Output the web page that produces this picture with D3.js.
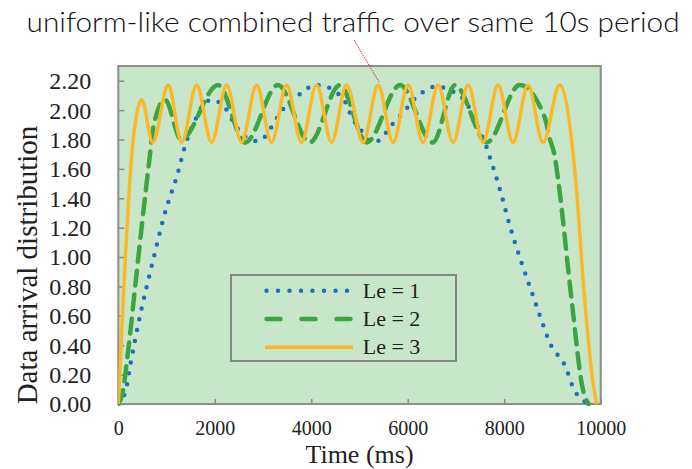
<!DOCTYPE html>
<html>
<head>
<meta charset="utf-8">
<script src="https://cdn.jsdelivr.net/npm/d3@7"></script>
<style>
  body { margin: 0; background: #fff; }
  svg { display: block; }
</style>
</head>
<body>
<div id="chart"></div>
<script>
// values: [time in ms, arrival value]
const titleText = "uniform-like combined traffic over same 10s period";
const xTicks = [0, 2000, 4000, 6000, 8000, 10000];
const yTicks = [0, 0.2, 0.4, 0.6, 0.8, 1.0, 1.2, 1.4, 1.6, 1.8, 2.0, 2.2];
const seriesNames = ["Le = 1", "Le = 2", "Le = 3"];

const le1 = [
  [0, 0], [160, 0.1], [240, 0.25], [450, 0.6], [700, 0.95], [950, 1.28], [1240, 1.58], [1360, 1.73],
  [1520, 1.88], [1620, 1.95], [1730, 2.02], [1930, 2.07], [2270, 1.99], [2380, 1.92], [2870, 1.79],
  [3070, 1.83], [3200, 1.9], [3450, 2.02], [3660, 2.08], [3850, 2.13], [4060, 2.17], [4300, 2.16],
  [4520, 2.12], [4700, 2.06], [4790, 1.99], [4900, 1.92], [5080, 1.84], [5150, 1.8], [5380, 1.79],
  [5560, 1.85], [5700, 1.91], [5870, 1.97], [6000, 2.02], [6180, 2.09], [6350, 2.13], [6560, 2.16],
  [6870, 2.14], [7040, 2.1], [7220, 2.05], [7320, 1.98], [7430, 1.9], [7530, 1.83], [7620, 1.76],
  [7700, 1.68], [7770, 1.61], [7840, 1.54], [7910, 1.46], [7970, 1.39], [8110, 1.22], [8320, 1.0],
  [8530, 0.8], [8740, 0.6], [8940, 0.42], [9280, 0.245], [9420, 0.12], [9600, 0.03], [9840, 0]
];

const le2 = [
  [0, 0], [90, 0.08], [200, 0.35], [350, 0.8], [500, 1.25], [640, 1.65], [730, 1.89], [970, 2.07],
  [1300, 1.8], [2070, 2.17], [2630, 1.78], [3310, 2.17], [3970, 1.78], [4590, 2.17], [5150, 1.78],
  [5840, 2.17], [6520, 1.78], [6980, 2.17], [7640, 1.78], [8320, 2.17], [8840, 1.95], [8940, 1.81],
  [9050, 1.68], [9120, 1.52], [9400, 0.7], [9630, 0.1], [9750, 0]
];

const le3 = [
  [0, 0], [60, 0.42], [120, 0.83], [180, 1.2], [240, 1.52], [300, 1.77], [360, 1.93], [420, 2.03],
  [485, 2.07], [713, 1.78], [1036, 2.17], [1313, 1.78], [1624, 2.17], [1935, 1.78], [2246, 2.17],
  [2556, 1.78], [2867, 2.17], [3178, 1.78], [3489, 2.17], [3799, 1.78], [4110, 2.17], [4421, 1.78],
  [4732, 2.17], [5076, 1.78], [5386, 2.17], [5697, 1.78], [6008, 2.17], [6319, 1.78], [6629, 2.17],
  [6940, 1.78], [7251, 2.17], [7562, 1.78], [7872, 2.17], [8183, 1.78], [8494, 2.17], [8805, 1.78],
  [9151, 2.17], [9482, 1.52], [9668, 0.71], [9834, 0.16], [9917, 0]
];

const width = 692, height = 469;
const plot = { left: 118.3, right: 600.7, top: 66, bottom: 404 };

const svg = d3.select("#chart").append("svg")
  .attr("width", width).attr("height", height)
  .attr("viewBox", `0 0 ${width} ${height}`);

const x = d3.scaleLinear().domain([0, 10000]).range([plot.left, plot.right]);
const y = d3.scaleLinear().domain([0, 2.3]).range([plot.bottom, plot.top]);

// plot area
svg.append("rect")
  .attr("x", plot.left).attr("y", plot.top)
  .attr("width", plot.right - plot.left).attr("height", plot.bottom - plot.top)
  .attr("fill", "#c8e6c9");

const axisColor = "#8c8c8c";
const serif = "'Liberation Serif', 'Times New Roman', serif";
const gx = svg.append("g").attr("transform", `translate(0,${plot.bottom})`)
  .call(d3.axisBottom(x).tickValues(xTicks).tickSize(-5).tickSizeOuter(0).tickPadding(31).tickFormat(d3.format("d")));
gx.selectAll("text").attr("font-family", serif)
  .attr("font-size", 20).attr("fill", "#222").attr("dy", 0);
const gy = svg.append("g").attr("transform", `translate(${plot.left},0)`)
  .call(d3.axisLeft(y).tickValues(yTicks).tickSize(-6).tickSizeOuter(0).tickPadding(27).tickFormat(d3.format(".2f")));
gy.selectAll("text").attr("font-family", serif)
  .attr("font-size", 24).attr("fill", "#222").attr("dy", "0.33em");
svg.selectAll(".tick line").attr("stroke", axisColor).attr("stroke-width", 1.5);
svg.selectAll(".domain").remove();

// frame
svg.append("rect")
  .attr("x", plot.left).attr("y", plot.top)
  .attr("width", plot.right - plot.left).attr("height", plot.bottom - plot.top)
  .attr("fill", "none").attr("stroke", axisColor).attr("stroke-width", 2);

const line = d3.line().x((d) => x(d[0])).y((d) => y(d[1])).curve(d3.curveMonotoneX);
const series = [
  { name: seriesNames[0], data: le1, color: "#1f6fbf", width: 4.5, dash: "0 11", cap: "round", legendDash: "0 11.5" },
  { name: seriesNames[1], data: le2, color: "#3da444", width: 4.5, dash: "15 9", cap: "round", legendDash: "14 21" },
  { name: seriesNames[2], data: le3, color: "#fbb927", width: 3.5, dash: null, cap: "butt", legendDash: null },
];

svg.append("clipPath").attr("id", "plotclip").append("rect")
  .attr("x", plot.left).attr("y", plot.top - 2)
  .attr("width", plot.right - plot.left + 3).attr("height", plot.bottom - plot.top + 4);

svg.append("g").attr("clip-path", "url(#plotclip)")
  .selectAll("path").data(series).join("path")
  .attr("fill", "none").attr("stroke", (d) => d.color).attr("stroke-width", (d) => d.width)
  .attr("stroke-dasharray", (d) => d.dash).attr("stroke-linecap", (d) => d.cap)
  .attr("stroke-linejoin", "round")
  .attr("d", (d) => line(d.data));

// legend
const legend = svg.append("g");
legend.append("rect").attr("x", 231).attr("y", 275).attr("width", 225).attr("height", 86)
  .attr("fill", "none").attr("stroke", "#858585").attr("stroke-width", 2);
const rows = legend.selectAll("g.row").data(series).join("g").attr("class", "row")
  .attr("transform", (d, i) => `translate(0,${290.7 + i * 28.3})`);
rows.append("line").attr("x1", (d) => d.cap === "round" ? 266.5 : 265).attr("x2", 353)
  .attr("stroke", (d) => d.color).attr("stroke-width", (d) => d.width)
  .attr("stroke-dasharray", (d) => d.legendDash).attr("stroke-linecap", (d) => d.cap);
rows.append("text").attr("x", 362.7).attr("y", 6.8)
  .attr("font-family", serif).attr("font-size", 22)
  .attr("fill", "#222").text((d) => d.name);

// axis titles
svg.append("text").attr("x", x(5000)).attr("y", 463).attr("text-anchor", "middle")
  .attr("font-family", serif).attr("font-size", 26)
  .attr("fill", "#222").text("Time (ms)");
svg.append("text").attr("transform", "translate(37,265) rotate(-90)").attr("text-anchor", "middle")
  .attr("font-family", serif).attr("font-size", 29)
  .attr("fill", "#222").text("Data arrival distribution");

// annotation
svg.append("text").attr("x", 26.6).attr("y", 32)
  .attr("font-family", "Lato, 'Open Sans', sans-serif").attr("font-weight", 300).attr("font-size", 27)
  .attr("textLength", 653).attr("lengthAdjust", "spacingAndGlyphs")
  .attr("fill", "#111").text(titleText);
svg.append("line").attr("x1", 354).attr("y1", 40).attr("x2", 379).attr("y2", 82)
  .attr("stroke", "#e0302a").attr("stroke-width", 1).attr("stroke-dasharray", "1.5 1");
</script>
</body>
</html>
